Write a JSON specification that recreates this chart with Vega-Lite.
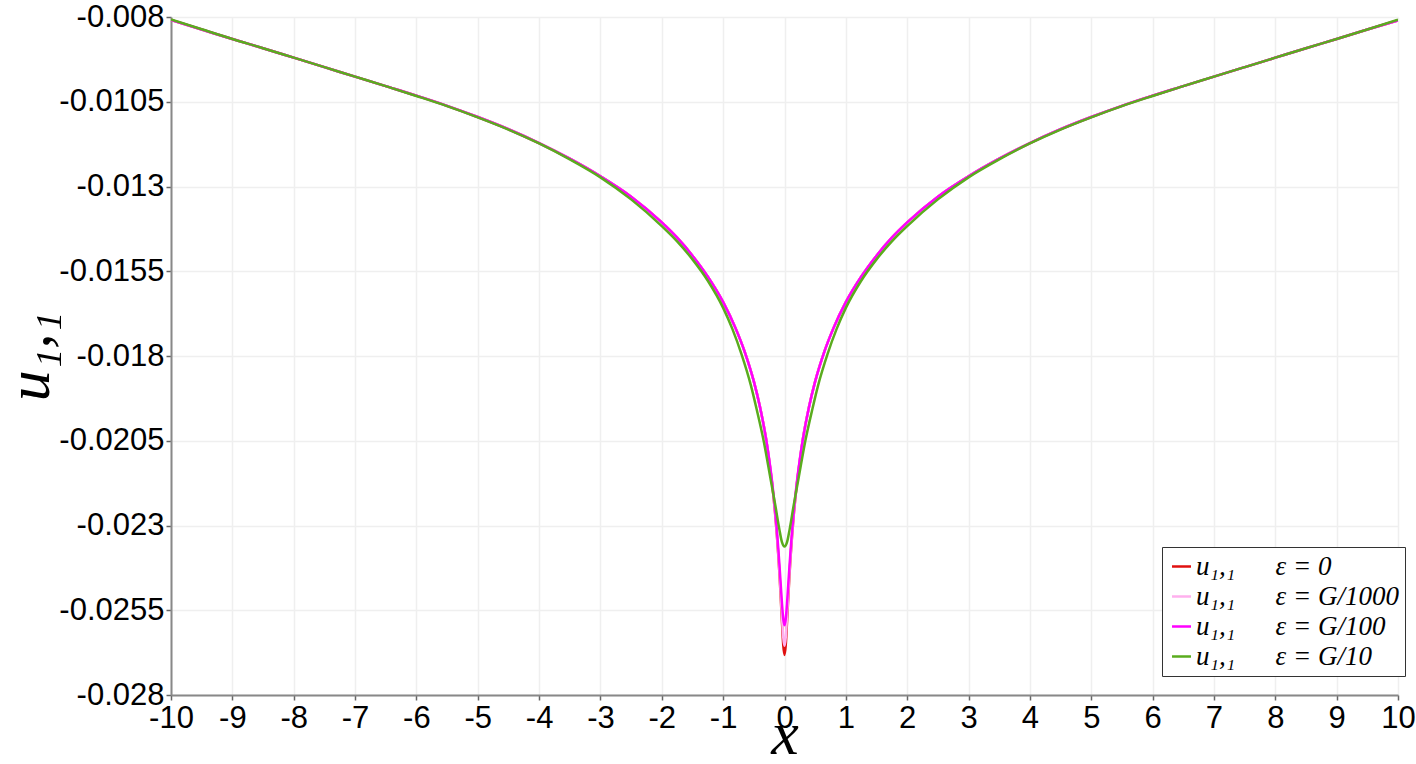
{
  "$schema": "https://vega.github.io/schema/vega-lite/v6.json",
  "autosize": "none",
  "width": 1227,
  "height": 678,
  "padding": {"left": 171, "top": 17, "right": 18, "bottom": 69},
  "background": "white",
  "config": {
    "view": {"stroke": null},
    "axis": {
      "domainColor": "#888888",
      "domainWidth": 2,
      "tickColor": "#666666",
      "tickSize": 5,
      "tickWidth": 1.5,
      "gridColor": "#efefef",
      "gridWidth": 1.5,
      "labelFont": "Liberation Sans",
      "labelFontSize": 31,
      "labelColor": "#000000",
      "labelFlush": false,
      "labelOverlap": false,
      "titleFont": "Liberation Serif",
      "titleFontStyle": "italic",
      "titleFontWeight": "normal",
      "titleColor": "#000000"
    }
  },
  "data": {
    "values": [
      {"x": -10, "u": -0.00809, "s": "a"}, {"x": -9.5, "u": -0.00837, "s": "a"}, {"x": -9, "u": -0.00865, "s": "a"}, {"x": -8.5, "u": -0.00892, "s": "a"}, {"x": -8, "u": -0.0092, "s": "a"}, {"x": -7.5, "u": -0.00948, "s": "a"}, {"x": -7, "u": -0.00976, "s": "a"}, {"x": -6.5, "u": -0.01004, "s": "a"}, {"x": -6, "u": -0.01032, "s": "a"}, {"x": -5.5, "u": -0.01062, "s": "a"}, {"x": -5, "u": -0.01095, "s": "a"}, {"x": -4.5, "u": -0.01131, "s": "a"}, {"x": -4, "u": -0.01172, "s": "a"}, {"x": -3.5, "u": -0.01218, "s": "a"}, {"x": -3, "u": -0.0127, "s": "a"}, {"x": -2.5, "u": -0.0133, "s": "a"},
      {"x": -2, "u": -0.01406, "s": "a"}, {"x": -1.75, "u": -0.01451, "s": "a"}, {"x": -1.5, "u": -0.01504, "s": "a"}, {"x": -1.25, "u": -0.01566, "s": "a"}, {"x": -1, "u": -0.01641, "s": "a"}, {"x": -0.8, "u": -0.01717, "s": "a"}, {"x": -0.65, "u": -0.01787, "s": "a"}, {"x": -0.5, "u": -0.01875, "s": "a"}, {"x": -0.4, "u": -0.0195, "s": "a"}, {"x": -0.3, "u": -0.02045, "s": "a"}, {"x": -0.25, "u": -0.02108, "s": "a"}, {"x": -0.2, "u": -0.0218, "s": "a"}, {"x": -0.15, "u": -0.02271, "s": "a"}, {"x": -0.125, "u": -0.02327, "s": "a"}, {"x": -0.1, "u": -0.02391, "s": "a"}, {"x": -0.08, "u": -0.0245, "s": "a"}, {"x": -0.06, "u": -0.02518, "s": "a"}, {"x": -0.04, "u": -0.02589, "s": "a"}, {"x": -0.02, "u": -0.02654, "s": "a"},
      {"x": 0, "u": -0.02682, "s": "a"},
      {"x": 0.02, "u": -0.02654, "s": "a"}, {"x": 0.04, "u": -0.02589, "s": "a"}, {"x": 0.06, "u": -0.02518, "s": "a"}, {"x": 0.08, "u": -0.0245, "s": "a"}, {"x": 0.1, "u": -0.02391, "s": "a"}, {"x": 0.125, "u": -0.02327, "s": "a"}, {"x": 0.15, "u": -0.02271, "s": "a"}, {"x": 0.2, "u": -0.0218, "s": "a"}, {"x": 0.25, "u": -0.02108, "s": "a"}, {"x": 0.3, "u": -0.02045, "s": "a"}, {"x": 0.4, "u": -0.0195, "s": "a"}, {"x": 0.5, "u": -0.01875, "s": "a"}, {"x": 0.65, "u": -0.01787, "s": "a"}, {"x": 0.8, "u": -0.01717, "s": "a"}, {"x": 1, "u": -0.01641, "s": "a"}, {"x": 1.25, "u": -0.01566, "s": "a"}, {"x": 1.5, "u": -0.01504, "s": "a"}, {"x": 1.75, "u": -0.01451, "s": "a"}, {"x": 2, "u": -0.01406, "s": "a"},
      {"x": 2.5, "u": -0.0133, "s": "a"}, {"x": 3, "u": -0.0127, "s": "a"}, {"x": 3.5, "u": -0.01218, "s": "a"}, {"x": 4, "u": -0.01172, "s": "a"}, {"x": 4.5, "u": -0.01131, "s": "a"}, {"x": 5, "u": -0.01095, "s": "a"}, {"x": 5.5, "u": -0.01062, "s": "a"}, {"x": 6, "u": -0.01032, "s": "a"}, {"x": 6.5, "u": -0.01004, "s": "a"}, {"x": 7, "u": -0.00976, "s": "a"}, {"x": 7.5, "u": -0.00948, "s": "a"}, {"x": 8, "u": -0.0092, "s": "a"}, {"x": 8.5, "u": -0.00892, "s": "a"}, {"x": 9, "u": -0.00865, "s": "a"}, {"x": 9.5, "u": -0.00837, "s": "a"}, {"x": 10, "u": -0.0081, "s": "a"},

      {"x": -10, "u": -0.00809, "s": "b"}, {"x": -9.5, "u": -0.00837, "s": "b"}, {"x": -9, "u": -0.00865, "s": "b"}, {"x": -8.5, "u": -0.00892, "s": "b"}, {"x": -8, "u": -0.0092, "s": "b"}, {"x": -7.5, "u": -0.00948, "s": "b"}, {"x": -7, "u": -0.00976, "s": "b"}, {"x": -6.5, "u": -0.01004, "s": "b"}, {"x": -6, "u": -0.01032, "s": "b"}, {"x": -5.5, "u": -0.01062, "s": "b"}, {"x": -5, "u": -0.01095, "s": "b"}, {"x": -4.5, "u": -0.01131, "s": "b"}, {"x": -4, "u": -0.01172, "s": "b"}, {"x": -3.5, "u": -0.01218, "s": "b"}, {"x": -3, "u": -0.0127, "s": "b"}, {"x": -2.5, "u": -0.0133, "s": "b"},
      {"x": -2, "u": -0.01406, "s": "b"}, {"x": -1.75, "u": -0.01451, "s": "b"}, {"x": -1.5, "u": -0.01504, "s": "b"}, {"x": -1.25, "u": -0.01566, "s": "b"}, {"x": -1, "u": -0.01641, "s": "b"}, {"x": -0.8, "u": -0.01717, "s": "b"}, {"x": -0.65, "u": -0.01787, "s": "b"}, {"x": -0.5, "u": -0.01875, "s": "b"}, {"x": -0.4, "u": -0.0195, "s": "b"}, {"x": -0.3, "u": -0.02045, "s": "b"}, {"x": -0.25, "u": -0.02106, "s": "b"}, {"x": -0.2, "u": -0.02179, "s": "b"}, {"x": -0.15, "u": -0.02269, "s": "b"}, {"x": -0.125, "u": -0.02323, "s": "b"}, {"x": -0.1, "u": -0.02386, "s": "b"}, {"x": -0.08, "u": -0.02443, "s": "b"}, {"x": -0.06, "u": -0.02507, "s": "b"}, {"x": -0.04, "u": -0.02573, "s": "b"}, {"x": -0.02, "u": -0.02631, "s": "b"},
      {"x": 0, "u": -0.02655, "s": "b"},
      {"x": 0.02, "u": -0.02631, "s": "b"}, {"x": 0.04, "u": -0.02573, "s": "b"}, {"x": 0.06, "u": -0.02507, "s": "b"}, {"x": 0.08, "u": -0.02443, "s": "b"}, {"x": 0.1, "u": -0.02386, "s": "b"}, {"x": 0.125, "u": -0.02323, "s": "b"}, {"x": 0.15, "u": -0.02269, "s": "b"}, {"x": 0.2, "u": -0.02179, "s": "b"}, {"x": 0.25, "u": -0.02106, "s": "b"}, {"x": 0.3, "u": -0.02045, "s": "b"}, {"x": 0.4, "u": -0.0195, "s": "b"}, {"x": 0.5, "u": -0.01875, "s": "b"}, {"x": 0.65, "u": -0.01787, "s": "b"}, {"x": 0.8, "u": -0.01717, "s": "b"}, {"x": 1, "u": -0.01641, "s": "b"}, {"x": 1.25, "u": -0.01566, "s": "b"}, {"x": 1.5, "u": -0.01504, "s": "b"}, {"x": 1.75, "u": -0.01451, "s": "b"}, {"x": 2, "u": -0.01406, "s": "b"},
      {"x": 2.5, "u": -0.0133, "s": "b"}, {"x": 3, "u": -0.0127, "s": "b"}, {"x": 3.5, "u": -0.01218, "s": "b"}, {"x": 4, "u": -0.01172, "s": "b"}, {"x": 4.5, "u": -0.01131, "s": "b"}, {"x": 5, "u": -0.01095, "s": "b"}, {"x": 5.5, "u": -0.01062, "s": "b"}, {"x": 6, "u": -0.01032, "s": "b"}, {"x": 6.5, "u": -0.01004, "s": "b"}, {"x": 7, "u": -0.00976, "s": "b"}, {"x": 7.5, "u": -0.00948, "s": "b"}, {"x": 8, "u": -0.0092, "s": "b"}, {"x": 8.5, "u": -0.00892, "s": "b"}, {"x": 9, "u": -0.00865, "s": "b"}, {"x": 9.5, "u": -0.00837, "s": "b"}, {"x": 10, "u": -0.0081, "s": "b"},

      {"x": -10, "u": -0.00809, "s": "c"}, {"x": -9.5, "u": -0.00837, "s": "c"}, {"x": -9, "u": -0.00865, "s": "c"}, {"x": -8.5, "u": -0.00892, "s": "c"}, {"x": -8, "u": -0.0092, "s": "c"}, {"x": -7.5, "u": -0.00948, "s": "c"}, {"x": -7, "u": -0.00976, "s": "c"}, {"x": -6.5, "u": -0.01004, "s": "c"}, {"x": -6, "u": -0.01032, "s": "c"}, {"x": -5.5, "u": -0.01062, "s": "c"}, {"x": -5, "u": -0.01095, "s": "c"}, {"x": -4.5, "u": -0.01131, "s": "c"}, {"x": -4, "u": -0.01172, "s": "c"}, {"x": -3.5, "u": -0.01218, "s": "c"}, {"x": -3, "u": -0.0127, "s": "c"}, {"x": -2.5, "u": -0.0133, "s": "c"},
      {"x": -2, "u": -0.01406, "s": "c"}, {"x": -1.75, "u": -0.01451, "s": "c"}, {"x": -1.5, "u": -0.01504, "s": "c"}, {"x": -1.25, "u": -0.01566, "s": "c"}, {"x": -1, "u": -0.01641, "s": "c"}, {"x": -0.8, "u": -0.01717, "s": "c"}, {"x": -0.65, "u": -0.01787, "s": "c"}, {"x": -0.5, "u": -0.01875, "s": "c"}, {"x": -0.4, "u": -0.0195, "s": "c"}, {"x": -0.3, "u": -0.02045, "s": "c"}, {"x": -0.25, "u": -0.02104, "s": "c"}, {"x": -0.2, "u": -0.02174, "s": "c"}, {"x": -0.15, "u": -0.02261, "s": "c"}, {"x": -0.125, "u": -0.02313, "s": "c"}, {"x": -0.1, "u": -0.02371, "s": "c"}, {"x": -0.08, "u": -0.02423, "s": "c"}, {"x": -0.06, "u": -0.02478, "s": "c"}, {"x": -0.04, "u": -0.02533, "s": "c"}, {"x": -0.02, "u": -0.02576, "s": "c"},
      {"x": 0, "u": -0.02594, "s": "c"},
      {"x": 0.02, "u": -0.02576, "s": "c"}, {"x": 0.04, "u": -0.02533, "s": "c"}, {"x": 0.06, "u": -0.02478, "s": "c"}, {"x": 0.08, "u": -0.02423, "s": "c"}, {"x": 0.1, "u": -0.02371, "s": "c"}, {"x": 0.125, "u": -0.02313, "s": "c"}, {"x": 0.15, "u": -0.02261, "s": "c"}, {"x": 0.2, "u": -0.02174, "s": "c"}, {"x": 0.25, "u": -0.02104, "s": "c"}, {"x": 0.3, "u": -0.02045, "s": "c"}, {"x": 0.4, "u": -0.0195, "s": "c"}, {"x": 0.5, "u": -0.01875, "s": "c"}, {"x": 0.65, "u": -0.01787, "s": "c"}, {"x": 0.8, "u": -0.01717, "s": "c"}, {"x": 1, "u": -0.01641, "s": "c"}, {"x": 1.25, "u": -0.01566, "s": "c"}, {"x": 1.5, "u": -0.01504, "s": "c"}, {"x": 1.75, "u": -0.01451, "s": "c"}, {"x": 2, "u": -0.01406, "s": "c"},
      {"x": 2.5, "u": -0.0133, "s": "c"}, {"x": 3, "u": -0.0127, "s": "c"}, {"x": 3.5, "u": -0.01218, "s": "c"}, {"x": 4, "u": -0.01172, "s": "c"}, {"x": 4.5, "u": -0.01131, "s": "c"}, {"x": 5, "u": -0.01095, "s": "c"}, {"x": 5.5, "u": -0.01062, "s": "c"}, {"x": 6, "u": -0.01032, "s": "c"}, {"x": 6.5, "u": -0.01004, "s": "c"}, {"x": 7, "u": -0.00976, "s": "c"}, {"x": 7.5, "u": -0.00948, "s": "c"}, {"x": 8, "u": -0.0092, "s": "c"}, {"x": 8.5, "u": -0.00892, "s": "c"}, {"x": 9, "u": -0.00865, "s": "c"}, {"x": 9.5, "u": -0.00837, "s": "c"}, {"x": 10, "u": -0.0081, "s": "c"},

      {"x": -10, "u": -0.00807, "s": "d"}, {"x": -9.5, "u": -0.00836, "s": "d"}, {"x": -9, "u": -0.00865, "s": "d"}, {"x": -8.5, "u": -0.00892, "s": "d"}, {"x": -8, "u": -0.0092, "s": "d"}, {"x": -7.5, "u": -0.00948, "s": "d"}, {"x": -7, "u": -0.00976, "s": "d"}, {"x": -6.5, "u": -0.01004, "s": "d"}, {"x": -6, "u": -0.01033, "s": "d"}, {"x": -5.5, "u": -0.01063, "s": "d"}, {"x": -5, "u": -0.01096, "s": "d"}, {"x": -4.5, "u": -0.01132, "s": "d"}, {"x": -4, "u": -0.01173, "s": "d"}, {"x": -3.5, "u": -0.0122, "s": "d"}, {"x": -3, "u": -0.01273, "s": "d"}, {"x": -2.5, "u": -0.01338, "s": "d"},
      {"x": -2, "u": -0.01417, "s": "d"}, {"x": -1.75, "u": -0.01462, "s": "d"}, {"x": -1.5, "u": -0.01515, "s": "d"}, {"x": -1.25, "u": -0.01578, "s": "d"}, {"x": -1, "u": -0.01658, "s": "d"}, {"x": -0.85, "u": -0.0172, "s": "d"}, {"x": -0.7, "u": -0.01795, "s": "d"}, {"x": -0.55, "u": -0.01885, "s": "d"}, {"x": -0.45, "u": -0.0196, "s": "d"}, {"x": -0.34, "u": -0.0205, "s": "d"}, {"x": -0.23, "u": -0.0216, "s": "d"}, {"x": -0.15, "u": -0.0224, "s": "d"}, {"x": -0.085, "u": -0.0231, "s": "d"}, {"x": -0.04, "u": -0.0235, "s": "d"},
      {"x": 0, "u": -0.02362, "s": "d"},
      {"x": 0.04, "u": -0.0235, "s": "d"}, {"x": 0.085, "u": -0.0231, "s": "d"}, {"x": 0.15, "u": -0.0224, "s": "d"}, {"x": 0.23, "u": -0.0216, "s": "d"}, {"x": 0.34, "u": -0.0205, "s": "d"}, {"x": 0.45, "u": -0.0196, "s": "d"}, {"x": 0.55, "u": -0.01885, "s": "d"}, {"x": 0.7, "u": -0.01795, "s": "d"}, {"x": 0.85, "u": -0.0172, "s": "d"}, {"x": 1, "u": -0.01658, "s": "d"}, {"x": 1.25, "u": -0.01578, "s": "d"}, {"x": 1.5, "u": -0.01515, "s": "d"}, {"x": 1.75, "u": -0.01462, "s": "d"}, {"x": 2, "u": -0.01417, "s": "d"},
      {"x": 2.5, "u": -0.01338, "s": "d"}, {"x": 3, "u": -0.01273, "s": "d"}, {"x": 3.5, "u": -0.0122, "s": "d"}, {"x": 4, "u": -0.01173, "s": "d"}, {"x": 4.5, "u": -0.01132, "s": "d"}, {"x": 5, "u": -0.01096, "s": "d"}, {"x": 5.5, "u": -0.01063, "s": "d"}, {"x": 6, "u": -0.01033, "s": "d"}, {"x": 6.5, "u": -0.01004, "s": "d"}, {"x": 7, "u": -0.00976, "s": "d"}, {"x": 7.5, "u": -0.00948, "s": "d"}, {"x": 8, "u": -0.0092, "s": "d"}, {"x": 8.5, "u": -0.00892, "s": "d"}, {"x": 9, "u": -0.00865, "s": "d"}, {"x": 9.5, "u": -0.00837, "s": "d"}, {"x": 10, "u": -0.00808, "s": "d"}
    ]
  },
  "mark": {"type": "line", "interpolate": "monotone", "strokeWidth": 2.5, "clip": true},
  "encoding": {
    "x": {
      "field": "x",
      "type": "quantitative",
      "scale": {"domain": [-10, 10], "nice": false, "zero": false},
      "axis": {
        "values": [-10, -9, -8, -7, -6, -5, -4, -3, -2, -1, 0, 1, 2, 3, 4, 5, 6, 7, 8, 9, 10],
        "labelExpr": "'' + datum.value",
        "labelPadding": 3,
        "title": "x",
        "titleFontSize": 62,
        "titleBaseline": "alphabetic",
        "titlePadding": 20
      }
    },
    "y": {
      "field": "u",
      "type": "quantitative",
      "scale": {"domain": [-0.028, -0.008], "nice": false, "zero": false},
      "axis": {
        "values": [-0.028, -0.0255, -0.023, -0.0205, -0.018, -0.0155, -0.013, -0.0105, -0.008],
        "labelExpr": "'' + datum.value",
        "labelPadding": 2,
        "title": "u₁,₁",
        "titleFontSize": 62,
        "titleBaseline": "alphabetic",
        "titlePadding": 10
      }
    },
    "color": {
      "field": "s",
      "type": "nominal",
      "scale": {"domain": ["a", "b", "c", "d"], "range": ["#e01010", "#ffb0ee", "#ff00ff", "#5aac1e"]},
      "legend": {
        "title": null,
        "orient": "none",
        "legendX": 991,
        "legendY": 530,
        "direction": "vertical",
        "labelExpr": "datum.value == 'a' ? 'u₁,₁\u00a0\u00a0\u00a0\u00a0\u00a0\u00a0ε\u00a0=\u00a00' : datum.value == 'b' ? 'u₁,₁\u00a0\u00a0\u00a0\u00a0\u00a0\u00a0ε\u00a0=\u00a0G/1000' : datum.value == 'c' ? 'u₁,₁\u00a0\u00a0\u00a0\u00a0\u00a0\u00a0ε\u00a0=\u00a0G/100' : 'u₁,₁\u00a0\u00a0\u00a0\u00a0\u00a0\u00a0ε\u00a0=\u00a0G/10'",
        "labelFont": "Liberation Serif",
        "labelFontStyle": "italic",
        "labelFontSize": 27,
        "labelColor": "#000000",
        "labelLimit": 400,
        "labelOffset": 1,
        "symbolType": "stroke",
        "symbolStrokeWidth": 2.5,
        "symbolSize": 360,
        "rowPadding": 2,
        "padding": 6,
        "fillColor": "white",
        "strokeColor": "#333333",
        "cornerRadius": 0
      }
    }
  }
}
